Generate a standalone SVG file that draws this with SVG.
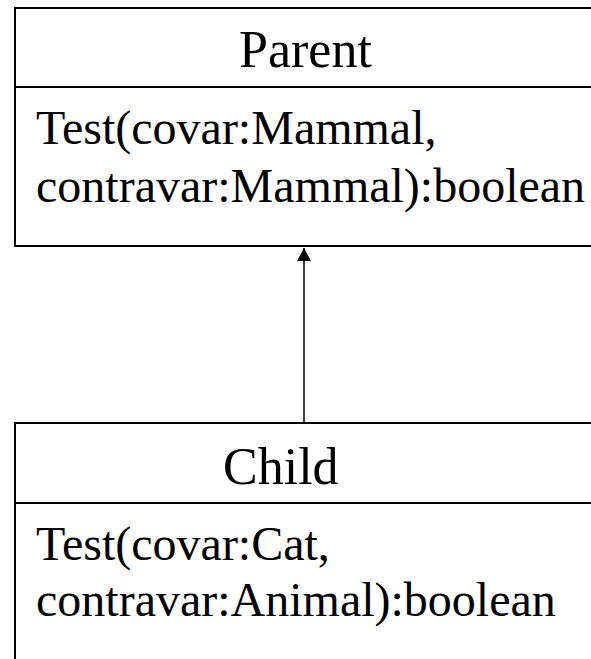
<svg xmlns="http://www.w3.org/2000/svg" width="591" height="659" viewBox="0 0 591 659">
  <style>
    .box { fill: #ffffff; stroke: #000000; stroke-width: 2; }
    .div { stroke: #000000; stroke-width: 2; }
    .title { font-family: "Liberation Serif", "Times New Roman", serif; font-size: 52px; fill: #000000; }
    .body { font-family: "Liberation Serif", "Times New Roman", serif; font-size: 48px; fill: #000000; }
    .conn { stroke: #000000; stroke-width: 1.5; fill: none; }
  </style>
  <defs>
    <marker id="arrow" markerUnits="userSpaceOnUse" markerWidth="14" markerHeight="14" viewBox="0 0 14 14" refX="13" refY="7" orient="auto">
      <path d="M0,0 L13,7 L0,14 Z" fill="#000000"/>
    </marker>
  </defs>
  <rect x="0" y="0" width="591" height="659" fill="#ffffff"/>
  <g id="parent">
    <rect class="box" x="15" y="8" width="600" height="238"/>
    <line class="div" x1="15" y1="87" x2="615" y2="87"/>
    <text class="title" x="239" y="66.5">Parent</text>
    <text class="body" x="36" y="143.5">Test(covar:Mammal,</text>
    <text class="body" x="36" y="201.5">contravar:Mammal):boolean</text>
  </g>
  <g id="child">
    <rect class="box" x="15" y="423" width="600" height="260"/>
    <line class="div" x1="15" y1="503" x2="615" y2="503"/>
    <text class="title" x="223" y="484">Child</text>
    <text class="body" x="36" y="560">Test(covar:Cat,</text>
    <text class="body" x="36" y="616">contravar:Animal):boolean</text>
  </g>
  <g id="connectors">
    <line class="conn" x1="304" y1="422" x2="304" y2="248" marker-end="url(#arrow)"/>
  </g>
</svg>
